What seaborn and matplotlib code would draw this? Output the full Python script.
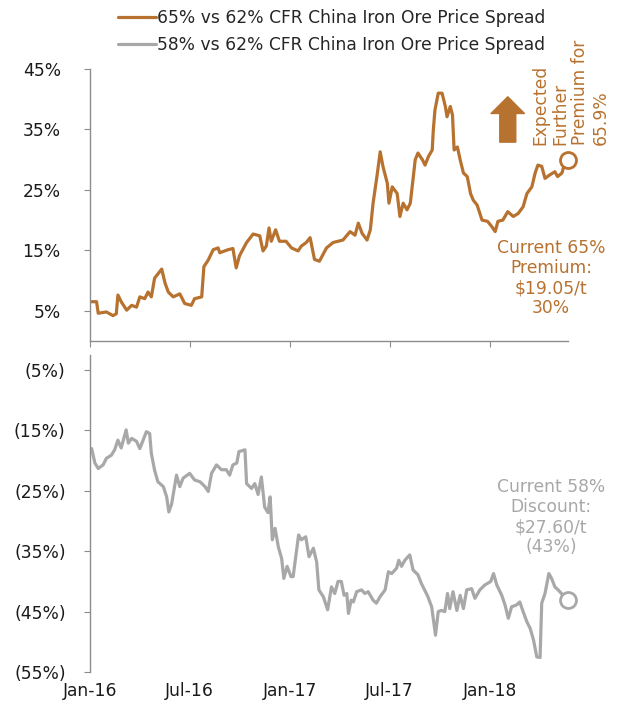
import matplotlib
matplotlib.use("Agg")
import matplotlib.pyplot as plt
import matplotlib.dates as mdates
from matplotlib.ticker import FixedLocator, FuncFormatter
import seaborn as sns
import pandas as pd

# ---------------- data ----------------
o_dates = ["2016-01-04","2016-01-13","2016-01-16","2016-01-31","2016-02-12","2016-02-18","2016-02-21","2016-02-27",
           "2016-03-08","2016-03-17","2016-03-26","2016-04-01","2016-04-10","2016-04-16","2016-04-22","2016-04-28",
           "2016-05-11","2016-05-17","2016-05-23","2016-06-01","2016-06-13","2016-06-22","2016-07-04","2016-07-10",
           "2016-07-23","2016-07-27","2016-08-04","2016-08-13","2016-08-22","2016-08-25","2016-09-09","2016-09-18",
           "2016-09-24","2016-09-30","2016-10-13","2016-10-25","2016-11-06","2016-11-12","2016-11-18","2016-11-23",
           "2016-11-27","2016-12-05","2016-12-12","2016-12-24","2017-01-03","2017-01-15","2017-01-21","2017-01-30",
           "2017-02-06","2017-02-14","2017-02-23","2017-03-08","2017-03-20","2017-04-07","2017-04-20","2017-04-29",
           "2017-05-05","2017-05-12","2017-05-21","2017-05-27","2017-06-01","2017-06-08","2017-06-14","2017-06-19",
           "2017-06-27","2017-06-30","2017-07-06","2017-07-15","2017-07-20","2017-07-26","2017-08-02","2017-08-08",
           "2017-08-17","2017-08-22","2017-08-30","2017-09-04","2017-09-10","2017-09-17","2017-09-19","2017-09-22",
           "2017-09-28","2017-10-05","2017-10-11","2017-10-14","2017-10-20","2017-10-24","2017-10-25","2017-10-27",
           "2017-11-02","2017-11-07","2017-11-13","2017-11-20","2017-11-26","2017-12-01","2017-12-08","2017-12-17",
           "2017-12-27","2018-01-04","2018-01-10","2018-01-15","2018-01-24","2018-02-02","2018-02-12","2018-02-21",
           "2018-03-02","2018-03-09","2018-03-18","2018-03-24","2018-03-29","2018-04-05","2018-04-11","2018-04-20",
           "2018-04-29","2018-05-04","2018-05-12","2018-05-17","2018-05-23"]
o_vals = [6.5,6.5,4.6,4.8,4.2,4.5,7.6,6.5,
          5.1,5.9,5.6,7.3,7.0,8.1,7.3,10.4,
          11.9,9.6,8.1,7.3,7.8,6.2,5.9,7.0,
          7.3,12.3,13.4,15.1,15.4,14.6,15.1,15.3,
          12.1,14.1,16.3,17.7,17.4,14.9,15.7,18.7,
          16.5,18.4,16.5,16.5,15.4,14.9,15.7,16.3,
          17.1,13.5,13.2,15.4,16.3,16.7,18.1,17.5,
          19.5,17.8,16.7,18.4,22.8,27.2,31.3,28.9,
          26.1,22.8,25.5,24.4,20.6,22.8,21.7,22.8,
          30.0,31.1,30.0,29.1,30.5,31.6,34.9,38.2,
          41.0,41.0,38.8,37.1,38.8,37.4,35.5,31.6,
          32.1,30.0,27.8,27.2,24.4,23.3,22.5,20.0,
          19.8,18.9,18.1,19.8,20.0,21.4,20.6,21.1,
          22.2,24.4,25.5,27.8,29.1,28.9,26.9,27.5,
          28.0,27.2,27.8,29.4,30.0]

g_dates = ["2016-01-04","2016-01-10","2016-01-16","2016-01-25","2016-01-31","2016-02-09","2016-02-15","2016-02-21",
           "2016-02-27","2016-03-07","2016-03-11","2016-03-17","2016-03-26","2016-04-01","2016-04-07","2016-04-13",
           "2016-04-19","2016-04-22","2016-04-28","2016-05-04","2016-05-14","2016-05-20","2016-05-24","2016-05-29",
           "2016-06-04","2016-06-07","2016-06-13","2016-06-19","2016-07-01","2016-07-10","2016-07-20","2016-07-29",
           "2016-08-04","2016-08-10","2016-08-19","2016-08-28","2016-09-06","2016-09-12","2016-09-18","2016-09-25",
           "2016-09-29","2016-10-10","2016-10-13","2016-10-22","2016-10-28","2016-11-03","2016-11-09","2016-11-15",
           "2016-11-21","2016-11-25","2016-11-29","2016-12-04","2016-12-10","2016-12-16","2016-12-20","2016-12-26",
           "2017-01-02","2017-01-06","2017-01-12","2017-01-16","2017-01-21","2017-01-29","2017-02-04","2017-02-12",
           "2017-02-18","2017-02-22","2017-03-02","2017-03-10","2017-03-17","2017-03-23","2017-03-29","2017-04-04",
           "2017-04-09","2017-04-14","2017-04-17","2017-04-22","2017-04-26","2017-05-02","2017-05-11","2017-05-17",
           "2017-05-23","2017-06-01","2017-06-07","2017-06-14","2017-06-23","2017-06-29","2017-07-05","2017-07-14",
           "2017-07-18","2017-07-23","2017-07-29","2017-08-07","2017-08-13","2017-08-22","2017-08-28","2017-09-03",
           "2017-09-09","2017-09-16","2017-09-23","2017-09-28","2017-10-04","2017-10-10","2017-10-15","2017-10-19",
           "2017-10-25","2017-11-01","2017-11-07","2017-11-13","2017-11-19","2017-11-28","2017-12-04","2017-12-13",
           "2017-12-22","2018-01-02","2018-01-07","2018-01-13","2018-01-22","2018-01-28","2018-02-03","2018-02-09",
           "2018-02-18","2018-02-24","2018-03-02","2018-03-09","2018-03-15","2018-03-21","2018-03-27","2018-04-02",
           "2018-04-05","2018-04-11","2018-04-18","2018-04-23","2018-04-29","2018-05-05","2018-05-11","2018-05-17",
           "2018-05-23"]
g_vals = [-18.0,-20.4,-21.3,-20.7,-19.6,-19.1,-18.2,-16.6,
          -17.9,-14.9,-17.1,-16.3,-16.8,-18.0,-16.6,-15.2,
          -15.5,-18.8,-21.6,-23.5,-24.3,-26.0,-28.5,-27.2,
          -24.0,-22.4,-24.3,-22.9,-22.1,-23.2,-23.5,-24.3,
          -25.1,-22.1,-20.7,-21.5,-21.5,-22.4,-20.7,-20.4,
          -18.5,-18.2,-23.8,-24.6,-23.8,-25.6,-22.7,-27.7,
          -28.6,-26.0,-33.1,-31.2,-34.3,-36.2,-39.5,-37.5,
          -39.2,-39.2,-35.0,-32.3,-33.1,-32.6,-35.9,-34.5,
          -36.8,-41.4,-42.5,-44.7,-40.9,-42.0,-40.0,-40.0,
          -42.3,-42.0,-45.3,-43.1,-43.4,-41.7,-41.4,-42.0,
          -41.7,-43.1,-43.6,-42.5,-41.4,-38.4,-38.7,-37.8,
          -36.5,-37.5,-36.5,-35.6,-38.1,-38.9,-40.3,-41.4,
          -42.5,-44.2,-48.9,-45.0,-44.8,-45.0,-42.0,-44.5,
          -41.7,-44.8,-42.3,-44.5,-41.4,-41.2,-42.8,-41.4,
          -40.6,-40.0,-38.7,-40.6,-42.3,-43.9,-46.1,-44.2,
          -43.9,-43.4,-45.0,-46.7,-47.8,-49.7,-52.5,-52.6,
          -43.6,-42.0,-38.7,-39.5,-40.9,-41.4,-42.0,-42.5,
          -43.1]

series_labels = ["65% vs 62% CFR China Iron Ore Price Spread",
                 "58% vs 62% CFR China Iron Ore Price Spread"]
top_ticks = [5, 15, 25, 35, 45]
bottom_ticks = [-5, -15, -25, -35, -45, -55]
x_tick_dates = ["2016-01-01", "2016-07-01", "2017-01-01", "2017-07-01", "2018-01-01"]
x_start, x_end = "2016-01-01", "2018-05-23"

orange_note = "Current 65%\nPremium:\n$19.05/t\n30%"
gray_note = "Current 58%\nDiscount:\n$27.60/t\n(43%)"
arrow_note = "Expected\nFurther\nPremium for\n65.9%"
arrow_date, arrow_from, arrow_to = "2018-02-02", 32.9, 40.4

# ---------------- style ----------------
sns.set_style("white")
plt.rcParams["font.family"] = ["DejaVu Sans"]
ORANGE = "#B8722F"
GRAY = "#A8A8A8"
SPINE = "#8C8C8C"
TXT = "#1A1A1A"
FS = 12.3

df_o = pd.DataFrame({"date": pd.to_datetime(o_dates), "val": o_vals})
df_g = pd.DataFrame({"date": pd.to_datetime(g_dates), "val": g_vals})

fig = plt.figure(figsize=(6.23, 7.04), dpi=100)
ax1 = fig.add_axes([90/623, 1-341/704, 478/623, 272/704])
ax2 = fig.add_axes([90/623, 1-672/704, 478/623, 317/704])

sns.lineplot(data=df_o, x="date", y="val", ax=ax1, color=ORANGE, lw=2.3,
             estimator=None, label=series_labels[0], legend=False)
sns.lineplot(data=df_g, x="date", y="val", ax=ax2, color=GRAY, lw=2.3,
             estimator=None, label=series_labels[1], legend=False)

# end markers
ax1.plot(df_o["date"].iloc[-1], df_o["val"].iloc[-1], "o", ms=11.5, mfc="white",
         mec=ORANGE, mew=2, clip_on=False, zorder=5)
ax2.plot(df_g["date"].iloc[-1], df_g["val"].iloc[-1], "o", ms=11.5, mfc="white",
         mec=GRAY, mew=2, clip_on=False, zorder=5)

def pct(v, pos):
    return f"{v:.0f}%" if v >= 0 else f"({-v:.0f}%)"

xt = [mdates.date2num(pd.Timestamp(d)) for d in x_tick_dates]
for ax in (ax1, ax2):
    ax.set_xlim(pd.Timestamp(x_start), pd.Timestamp(x_end))
    ax.xaxis.set_major_locator(FixedLocator(xt))
    ax.xaxis.set_major_formatter(mdates.DateFormatter("%b-%y"))
    ax.yaxis.set_major_formatter(FuncFormatter(pct))
    ax.set_xlabel("")
    ax.set_ylabel("")
    ax.grid(False)
    for s in ("top", "right"):
        ax.spines[s].set_visible(False)
    ax.spines["left"].set_color(SPINE)
    ax.spines["left"].set_linewidth(1)
    ax.patch.set_alpha(0)

ax1.set_ylim(0, 45)
ax1.yaxis.set_major_locator(FixedLocator(top_ticks))
ax1.spines["bottom"].set_color(SPINE)
ax1.spines["bottom"].set_linewidth(1)
ax1.tick_params(axis="x", bottom=True, length=4, color=SPINE, labelbottom=False)
ax1.tick_params(axis="y", left=True, length=4, color=SPINE, pad=17, labelsize=FS, labelcolor=TXT)

ax2.set_ylim(-55, -2.5)
ax2.yaxis.set_major_locator(FixedLocator(bottom_ticks))
ax2.spines["bottom"].set_visible(False)
ax2.tick_params(axis="x", bottom=False, length=0, pad=7, labelsize=FS, labelcolor=TXT)
ax2.tick_params(axis="y", left=True, length=4, color=SPINE, pad=13.5, labelsize=FS, labelcolor=TXT)

# legend
handles = [ax1.get_lines()[0], ax2.get_lines()[0]]
fig.legend(handles, series_labels, loc="upper left", bbox_to_anchor=(118/623, 1-9/704),
           frameon=False, fontsize=FS, handlelength=2.2, handletextpad=0.1,
           labelspacing=0.5, borderpad=0, borderaxespad=0)

# arrow
ad = pd.Timestamp(arrow_date)
ax1.annotate("", xy=(ad, arrow_to), xytext=(ad, arrow_from),
             arrowprops=dict(arrowstyle="simple,head_length=0.75,head_width=1.5,tail_width=0.72",
                             color=ORANGE, mutation_scale=16, shrinkA=0, shrinkB=0),
             annotation_clip=False)

# notes
fig.text(531/623, 1-145/704, arrow_note, rotation=90, ha="left", va="bottom",
         multialignment="left", color=ORANGE, fontsize=FS, linespacing=1.16)
fig.text(551/623, 1-239/704, orange_note, ha="center", va="top",
         multialignment="center", color=ORANGE, fontsize=FS, linespacing=1.15)
fig.text(551/623, 1-478/704, gray_note, ha="center", va="top",
         multialignment="center", color=GRAY, fontsize=FS, linespacing=1.15)

fig.savefig("out.png", dpi=100)
